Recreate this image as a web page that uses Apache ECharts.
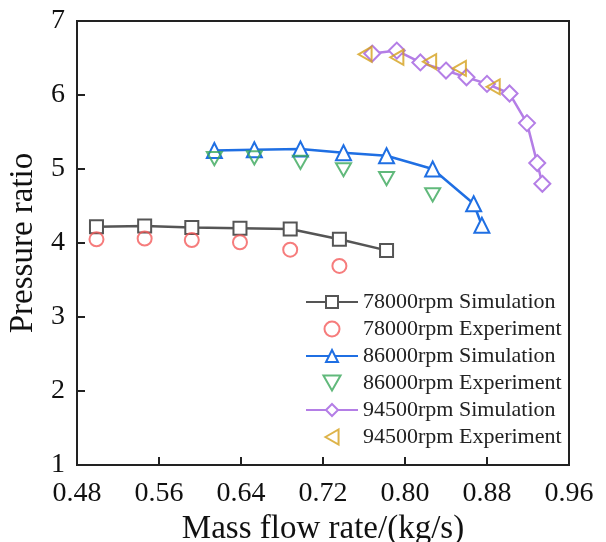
<!DOCTYPE html>
<html>
<head>
<meta charset="utf-8">
<script src="https://cdn.jsdelivr.net/npm/echarts@6/dist/echarts.min.js"></script>
<style>html,body{margin:0;padding:0;background:#fff;}#c{width:606px;height:542px;}</style>
</head>
<body>
<div id="c"></div>
<script>
// Data
var sim78x = [0.499, 0.546, 0.592, 0.639, 0.688, 0.736, 0.782];
var sim78y = [4.22, 4.23, 4.21, 4.20, 4.19, 4.05, 3.90];
var exp78x = [0.499, 0.546, 0.592, 0.639, 0.688, 0.736];
var exp78y = [4.05, 4.06, 4.04, 4.01, 3.91, 3.69];
var sim86x = [0.614, 0.653, 0.698, 0.740, 0.782, 0.827, 0.867, 0.875];
var sim86y = [5.25, 5.26, 5.27, 5.22, 5.18, 5.00, 4.53, 4.24];
var exp86x = [0.614, 0.653, 0.698, 0.740, 0.782, 0.827];
var exp86y = [5.14, 5.15, 5.09, 4.99, 4.87, 4.65];
var sim94x = [0.768, 0.792, 0.815, 0.840, 0.860, 0.880, 0.902, 0.919, 0.929, 0.934];
var sim94y = [6.56, 6.60, 6.44, 6.33, 6.24, 6.15, 6.02, 5.62, 5.08, 4.80];
var exp94x = [0.761, 0.792, 0.824, 0.853, 0.886];
var exp94y = [6.55, 6.51, 6.45, 6.36, 6.11];
var xTicks = { min: 0.48, max: 0.96, interval: 0.08 };
var yTicks = { min: 1, max: 7, interval: 1 };
var names = ['78000rpm Simulation', '78000rpm Experiment', '86000rpm Simulation',
             '86000rpm Experiment', '94500rpm Simulation', '94500rpm Experiment'];

function pairs(xs, ys) { return xs.map(function (x, i) { return [x, ys[i]]; }); }

var FONT = 'Liberation Serif';
var TRI_DOWN = 'path://M-1,-0.85 L1,-0.85 L0,0.9 Z';
var TRI_LEFT = 'path://M-0.9,0 L0.85,-1 L0.85,1 Z';
var chart = echarts.init(document.getElementById('c'));

function simSeries(name, xs, ys, color, symbol, size) {
  return {
    name: name, type: 'line', data: pairs(xs, ys), symbol: symbol, symbolSize: size,
    showAllSymbol: true,
    lineStyle: { color: color, width: 2.5 },
    itemStyle: { color: '#fff', borderColor: color, borderWidth: 2 },
    emphasis: { disabled: true }, z: 3
  };
}
function expSeries(name, xs, ys, color, symbol, size) {
  return {
    name: name, type: 'scatter', data: pairs(xs, ys), symbol: symbol, symbolSize: size,
    symbolKeepAspect: true,
    itemStyle: { color: 'rgba(255,255,255,0)', borderColor: color, borderWidth: 2 },
    emphasis: { disabled: true }, z: 4
  };
}

chart.setOption({
  animation: false,
  backgroundColor: '#fff',
  grid: { left: 77, right: 37, top: 21, bottom: 77, outerBoundsMode: 'none', containLabel: false,
    show: true, borderColor: '#222', borderWidth: 2, backgroundColor: 'transparent' },
  xAxis: {
    type: 'value', min: xTicks.min, max: xTicks.max, interval: xTicks.interval,
    name: 'Mass flow rate/(kg/s)', nameLocation: 'middle', nameGap: 37,
    nameTextStyle: { fontFamily: FONT, fontSize: 33, color: '#111' },
    axisLine: { show: true, lineStyle: { color: '#222', width: 2 } },
    axisTick: { show: true, inside: true, length: 8, lineStyle: { color: '#222', width: 2 } },
    axisLabel: { fontFamily: FONT, fontSize: 28, color: '#111', margin: 15,
      formatter: function (v) { return v.toFixed(2); } },
    splitLine: { show: false }
  },
  yAxis: {
    type: 'value', min: yTicks.min, max: yTicks.max, interval: yTicks.interval,
    name: 'Pressure ratio', nameLocation: 'middle', nameGap: 33,
    nameTextStyle: { fontFamily: FONT, fontSize: 33, color: '#111' },
    axisLine: { show: true, lineStyle: { color: '#222', width: 2 } },
    axisTick: { show: true, inside: true, length: 8, lineStyle: { color: '#222', width: 2 } },
    axisLabel: { fontFamily: FONT, fontSize: 28, color: '#111', margin: 12 },
    splitLine: { show: false }
  },
  legend: {
    orient: 'vertical', left: 300, top: 286, itemWidth: 52, itemHeight: 15, itemGap: 5,
    symbolKeepAspect: true,
    textStyle: { fontFamily: FONT, fontSize: 22, color: '#222' },
    data: names
  },
  series: [
    simSeries(names[0], sim78x, sim78y, '#555555', 'rect', 13),
    expSeries(names[1], exp78x, exp78y, '#f45b5b', 'circle', 14),
    simSeries(names[2], sim86x, sim86y, '#1f6fe3', 'triangle', 15),
    expSeries(names[3], exp86x, exp86y, '#3aa85a', TRI_DOWN, 15),
    simSeries(names[4], sim94x, sim94y, '#b47ee6', 'diamond', 16),
    expSeries(names[5], exp94x, exp94y, '#d4a01c', TRI_LEFT, 15)
  ]
});
</script>
</body>
</html>
